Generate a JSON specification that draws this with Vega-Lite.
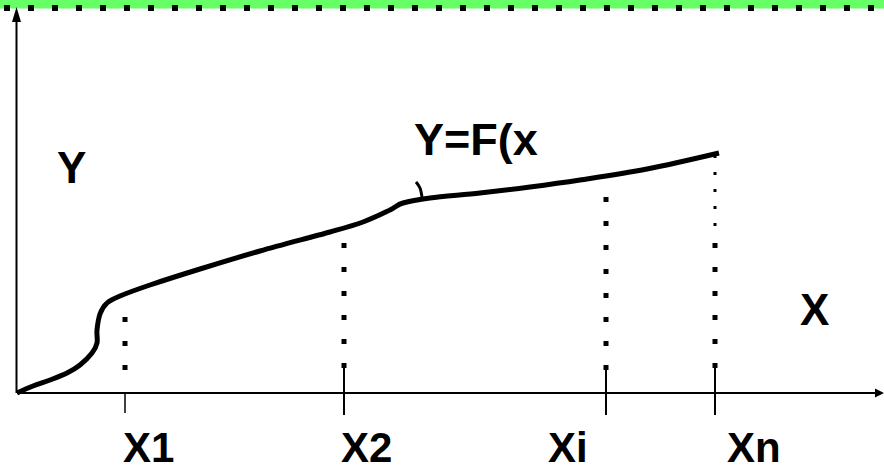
{
  "$schema": "https://vega.github.io/schema/vega-lite/v6.json",
  "width": 884,
  "height": 469,
  "padding": 0,
  "autosize": {"type": "none"},
  "background": "white",
  "config": {"view": {"stroke": null}},
  "datasets": {
    "band": [{"x": -17, "x2": 867, "y": 393, "y2": 384.5}],
    "bandDots": [{"x": -13, "x2": 867, "y": 385}],
    "axesLines": [
      {"name": "xaxis", "x": 0, "x2": 864, "y": 0, "y2": 0},
      {"name": "yaxis", "x": -0.5, "x2": -0.5, "y": 0, "y2": 376}
    ],
    "arrowUp": [{"x": -0.5, "y": 378.5}],
    "arrowRight": [{"x": 862.5, "y": 0}],
    "curve": [
      {"i": 1, "x": 0, "y": 0},
      {"i": 2, "x": 16, "y": 7},
      {"i": 3, "x": 33, "y": 13},
      {"i": 4, "x": 50, "y": 20},
      {"i": 5, "x": 63, "y": 28},
      {"i": 6, "x": 75, "y": 40},
      {"i": 7, "x": 80, "y": 50},
      {"i": 8, "x": 80, "y": 63},
      {"i": 9, "x": 83, "y": 79},
      {"i": 10, "x": 90, "y": 90},
      {"i": 11, "x": 103, "y": 97},
      {"i": 12, "x": 133, "y": 108},
      {"i": 13, "x": 183, "y": 124},
      {"i": 14, "x": 243, "y": 142},
      {"i": 15, "x": 313, "y": 161},
      {"i": 16, "x": 346, "y": 171},
      {"i": 17, "x": 373, "y": 183},
      {"i": 18, "x": 386, "y": 190},
      {"i": 19, "x": 413, "y": 195},
      {"i": 20, "x": 463, "y": 200},
      {"i": 21, "x": 513, "y": 206},
      {"i": 22, "x": 563, "y": 213},
      {"i": 23, "x": 630, "y": 224},
      {"i": 24, "x": 702, "y": 240}
    ],
    "hook": [
      {"i": 1, "x": 399, "y": 211},
      {"i": 2, "x": 403, "y": 205},
      {"i": 3, "x": 405, "y": 196}
    ],
    "bigDots": [
      {"name": "X1", "x": 108, "y": 76, "y2": 20},
      {"name": "X2", "x": 327, "y": 150, "y2": 23},
      {"name": "Xi", "x": 589, "y": 196, "y2": 23},
      {"name": "Xn", "x": 698, "y": 150, "y2": 23}
    ],
    "smallDots": [
      {"name": "Xn", "x": 698, "y": 238, "y2": 165}
    ],
    "ticks": [
      {"name": "X1", "x": 108, "y": 0, "y2": -20, "w": 1.5},
      {"name": "X2", "x": 327, "y": 27, "y2": -22, "w": 2},
      {"name": "Xi", "x": 589, "y": 28, "y2": -22, "w": 2},
      {"name": "Xn", "x": 698, "y": 27, "y2": -22, "w": 2}
    ],
    "labels": [
      {"text": "X1", "x": 106, "y": -69, "size": 42},
      {"text": "X2", "x": 324, "y": -69, "size": 42},
      {"text": "Xi", "x": 531, "y": -69, "size": 42},
      {"text": "Xn", "x": 710, "y": -69, "size": 42},
      {"text": "Y", "x": 40, "y": 210, "size": 44},
      {"text": "X", "x": 783, "y": 68, "size": 44},
      {"text": "Y=F(x", "x": 397, "y": 238, "size": 45}
    ]
  },
  "layer": [
    {
      "data": {"name": "band"},
      "mark": {"type": "rect", "color": "#66FF66"},
      "encoding": {
        "x": {"field": "x", "type": "quantitative", "scale": {"domain": [-17, 867], "nice": false, "zero": false}, "axis": null},
        "x2": {"field": "x2"},
        "y": {"field": "y", "type": "quantitative", "scale": {"domain": [-76, 393], "nice": false, "zero": false}, "axis": null},
        "y2": {"field": "y2"}
      }
    },
    {
      "data": {"name": "bandDots"},
      "mark": {"type": "rule", "color": "black", "strokeWidth": 6, "strokeDash": [6, 18], "strokeCap": "butt"},
      "encoding": {
        "x": {"field": "x", "type": "quantitative", "axis": null},
        "x2": {"field": "x2"},
        "y": {"field": "y", "type": "quantitative", "axis": null}
      }
    },
    {
      "data": {"name": "axesLines"},
      "mark": {"type": "rule", "color": "black", "strokeWidth": 2},
      "encoding": {
        "x": {"field": "x", "type": "quantitative", "axis": null},
        "x2": {"field": "x2"},
        "y": {"field": "y", "type": "quantitative", "axis": null},
        "y2": {"field": "y2"}
      }
    },
    {
      "data": {"name": "arrowUp"},
      "mark": {"type": "point", "shape": "M0,-1L0.6,1L-0.6,1Z", "filled": true, "color": "black", "opacity": 1, "size": 225, "strokeWidth": 0},
      "encoding": {
        "x": {"field": "x", "type": "quantitative", "axis": null},
        "y": {"field": "y", "type": "quantitative", "axis": null}
      }
    },
    {
      "data": {"name": "arrowRight"},
      "mark": {"type": "point", "shape": "M1,0L-1,-1L-1,1Z", "filled": true, "color": "black", "opacity": 1, "size": 81, "strokeWidth": 0},
      "encoding": {
        "x": {"field": "x", "type": "quantitative", "axis": null},
        "y": {"field": "y", "type": "quantitative", "axis": null}
      }
    },
    {
      "data": {"name": "bigDots"},
      "mark": {"type": "rule", "color": "black", "strokeWidth": 5, "strokeDash": [5, 19], "strokeCap": "butt"},
      "encoding": {
        "x": {"field": "x", "type": "quantitative", "axis": null},
        "y": {"field": "y", "type": "quantitative", "axis": null},
        "y2": {"field": "y2"}
      }
    },
    {
      "data": {"name": "smallDots"},
      "mark": {"type": "rule", "color": "black", "strokeWidth": 3, "strokeDash": [3, 14], "strokeCap": "butt"},
      "encoding": {
        "x": {"field": "x", "type": "quantitative", "axis": null},
        "y": {"field": "y", "type": "quantitative", "axis": null},
        "y2": {"field": "y2"}
      }
    },
    {
      "data": {"name": "ticks"},
      "mark": {"type": "rule", "color": "black"},
      "encoding": {
        "x": {"field": "x", "type": "quantitative", "axis": null},
        "y": {"field": "y", "type": "quantitative", "axis": null},
        "y2": {"field": "y2"},
        "strokeWidth": {"field": "w", "type": "quantitative", "scale": null}
      }
    },
    {
      "data": {"name": "curve"},
      "mark": {"type": "line", "color": "black", "strokeWidth": 5, "interpolate": "cardinal", "strokeCap": "butt"},
      "encoding": {
        "x": {"field": "x", "type": "quantitative", "axis": null},
        "y": {"field": "y", "type": "quantitative", "axis": null},
        "order": {"field": "i", "type": "quantitative"}
      }
    },
    {
      "data": {"name": "hook"},
      "mark": {"type": "line", "color": "black", "strokeWidth": 3, "interpolate": "cardinal"},
      "encoding": {
        "x": {"field": "x", "type": "quantitative", "axis": null},
        "y": {"field": "y", "type": "quantitative", "axis": null},
        "order": {"field": "i", "type": "quantitative"}
      }
    },
    {
      "data": {"name": "labels"},
      "mark": {"type": "text", "font": "Liberation Sans", "fontWeight": "bold", "align": "left", "baseline": "alphabetic", "color": "black"},
      "encoding": {
        "x": {"field": "x", "type": "quantitative", "axis": null},
        "y": {"field": "y", "type": "quantitative", "axis": null},
        "text": {"field": "text"},
        "size": {"field": "size", "type": "quantitative", "scale": null}
      }
    }
  ]
}
